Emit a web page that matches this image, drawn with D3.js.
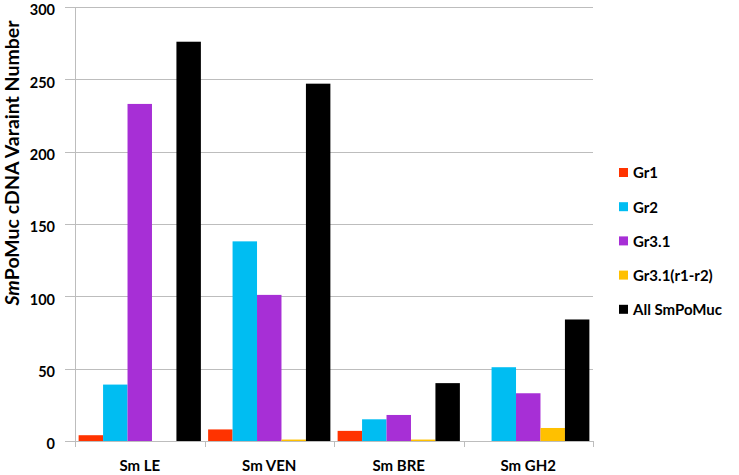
<!DOCTYPE html>
<html><head><meta charset="utf-8">
<script src="https://cdn.jsdelivr.net/npm/d3@7"></script>
<style>body{margin:0;background:#fff}svg{display:block}text{font-family:Lato,"Open Sans",sans-serif;font-weight:bold}</style>
</head><body>
<svg id="c" width="739" height="475"></svg>
<script>
const categories = ["Sm LE", "Sm VEN", "Sm BRE", "Sm GH2"];
const seriesNames = ["Gr1", "Gr2", "Gr3.1", "Gr3.1(r1-r2)", "All SmPoMuc"];
const seriesColors = ["#FF3300", "#00BDF2", "#A72FD6", "#FFC000", "#000000"];
const gr1 = [4, 8, 7, 0];
const gr2 = [39, 138, 15, 51];
const gr31 = [233, 101, 18, 33];
const gr31r = [0, 1, 1, 9];
const allMuc = [276, 247, 40, 84];
const yTicks = [0, 50, 100, 150, 200, 250, 300];

const values = [gr1, gr2, gr31, gr31r, allMuc];
const svg = d3.select("#c");
const m = {left: 75, right: 593, top: 7, bottom: 441};

const x0 = d3.scaleBand().domain(categories).range([m.left, m.right]).paddingInner(0).paddingOuter(0);
const x1 = d3.scaleBand().domain(seriesNames).range([0, x0.bandwidth()]).paddingOuter(0.148).paddingInner(0);
const y = d3.scaleLinear().domain([0, 300]).range([m.bottom, m.top]);

// gridlines
svg.append("g").selectAll("line").data(yTicks).join("line")
  .attr("x1", m.left - 10).attr("x2", m.right)
  .attr("y1", d => Math.round(y(d)) + 0.5).attr("y2", d => Math.round(y(d)) + 0.5)
  .attr("stroke", "#bdbdbd").attr("stroke-width", 1);

// y axis line
svg.append("line").attr("x1", m.left + 0.5).attr("x2", m.left + 0.5)
  .attr("y1", m.top).attr("y2", m.bottom).attr("stroke", "#bdbdbd");

// x category ticks
const bounds = categories.map(c => x0(c)).concat([m.right]);
svg.append("g").selectAll("line").data(bounds).join("line")
  .attr("x1", d => Math.round(d) + 0.5).attr("x2", d => Math.round(d) + 0.5)
  .attr("y1", m.bottom).attr("y2", m.bottom + 6).attr("stroke", "#bdbdbd");

// bars
const g = svg.append("g");
categories.forEach((c, ci) => {
  seriesNames.forEach((s, si) => {
    const v = values[si][ci];
    if (v <= 0) return;
    g.append("rect")
      .attr("x", x0(c) + x1(s))
      .attr("width", x1.bandwidth())
      .attr("y", y(v))
      .attr("height", y(0) - y(v))
      .attr("fill", seriesColors[si]);
  });
});

// y tick labels
svg.append("g").selectAll("text").data(yTicks).join("text")
  .attr("x", 55).attr("y", d => y(d) + 3).attr("dy", "0.36em")
  .attr("text-anchor", "end").attr("font-size", 14.5).attr("fill", "#000")
  .text(d => d);

// x labels
svg.append("g").selectAll("text").data(categories).join("text")
  .attr("x", d => x0(d) + x0.bandwidth() / 2).attr("y", 471)
  .attr("text-anchor", "middle").attr("font-size", 15).attr("fill", "#000")
  .text(d => d);

// y axis title
const yt = svg.append("text")
  .attr("transform", "translate(19,163) rotate(-90)")
  .attr("text-anchor", "middle").attr("font-size", 19.5).attr("fill", "#000");
yt.append("tspan").attr("font-style", "italic").text("Sm");
yt.append("tspan").text("PoMuc cDNA Varaint Number");

// legend
const lg = svg.append("g").attr("transform", "translate(619,173)");
seriesNames.forEach((s, i) => {
  const row = lg.append("g").attr("transform", `translate(0,${i * 34.2})`);
  row.append("rect").attr("x", 0).attr("y", -5).attr("width", 9).attr("height", 9).attr("fill", seriesColors[i]);
  row.append("text").attr("x", 14).attr("y", 0).attr("dy", "0.36em")
    .attr("font-size", 15).attr("fill", "#000").text(s);
});
</script>
</body></html>
